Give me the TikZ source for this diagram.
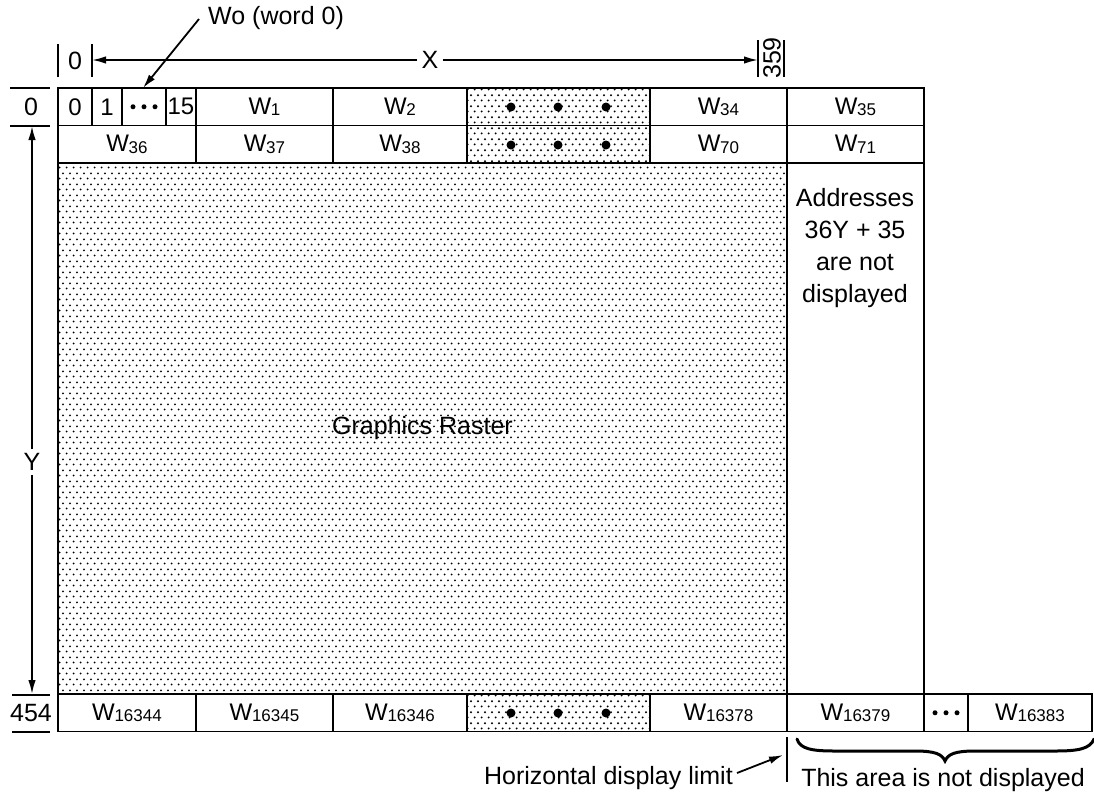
\documentclass[tikz,border=0pt]{standalone}
\usepackage{fontspec}
\setmainfont{Liberation Sans}
\usetikzlibrary{arrows.meta,patterns}
\pgfdeclarepatternformonly{rasterdots}{\pgfqpoint{0pt}{0pt}}{\pgfqpoint{7.3pt}{11pt}}{\pgfqpoint{7.3pt}{11pt}}{%
  \pgfpathcircle{\pgfqpoint{1.8pt}{2.75pt}}{1.15pt}%
  \pgfpathcircle{\pgfqpoint{5.45pt}{8.25pt}}{1.15pt}%
  \pgfusepath{fill}}
\newcommand\Wd[1]{W\kern-0.3pt\raisebox{-1.5pt}{\fontsize{17}{17}\selectfont #1}}
\tikzset{
  cell/.style={draw, line width=1.8pt, inner sep=0pt, outer sep=0pt, anchor=north west,
    minimum height=37.5pt, font=\fontsize{24}{28}\selectfont},
  dotcell/.style={cell, pattern=rasterdots},
  bigdot/.style={circle, fill, inner sep=0pt, minimum size=9pt},
  smalldot/.style={circle, fill, inner sep=0pt, minimum size=5pt},
  lbl/.style={font=\fontsize{25}{30}\selectfont, inner sep=1pt},
  tick/.style={line width=1.8pt},
  arr/.style={line width=1.8pt, -{Latex[length=14pt,width=7.5pt]}},
}
\begin{document}
\begin{tikzpicture}[x=1pt,y=-1pt]
\useasboundingbox (0,0) rectangle (1094,796);
% ---- row 1
\node[cell, minimum width=34pt] (b0) at (58,88) {0};
\node[cell, minimum width=30pt] (b1) at (92,88) {1};
\node[cell, minimum width=44pt] (bd) at (122,88) {};
\node[cell, minimum width=30pt] (b15) at (166,88) {15};
\node[cell, minimum width=137pt] (w1) at (196,88) {\Wd{1}};
\node[cell, minimum width=134pt] (w2) at (333,88) {\Wd{2}};
\node[dotcell, minimum width=183pt] (r1d) at (467,88) {};
\node[cell, minimum width=137pt] (w34) at (650,88) {\Wd{34}};
\node[cell, minimum width=137pt] (w35) at (787,88) {\Wd{35}};
% ---- row 2
\node[cell, minimum width=138pt] (w36) at (58,125.5) {\Wd{36}};
\node[cell, minimum width=137pt] (w37) at (196,125.5) {\Wd{37}};
\node[cell, minimum width=134pt] (w38) at (333,125.5) {\Wd{38}};
\node[dotcell, minimum width=183pt] (r2d) at (467,125.5) {};
\node[cell, minimum width=137pt] (w70) at (650,125.5) {\Wd{70}};
\node[cell, minimum width=137pt] (w71) at (787,125.5) {\Wd{71}};
% ---- raster and right column
\node[dotcell, minimum width=729pt, minimum height=531pt, font=\fontsize{25}{30}\selectfont] (raster) at (58,163) {Graphics Raster};
\node[cell, minimum width=137pt, minimum height=531pt] (ndcol) at (787,163) {};
\node[lbl, align=center, font=\fontsize{25}{32}\selectfont] (addr) at (855,248) {Addresses\\36Y + 35\\are not\\displayed};
% ---- bottom row
\node[cell, minimum width=138pt] (w16344) at (58,694) {\Wd{16344}};
\node[cell, minimum width=137pt] (w16345) at (196,694) {\Wd{16345}};
\node[cell, minimum width=134pt] (w16346) at (333,694) {\Wd{16346}};
\node[dotcell, minimum width=183pt] (r3d) at (467,694) {};
\node[cell, minimum width=137pt] (w16378) at (650,694) {\Wd{16378}};
\node[cell, minimum width=137pt] (w16379) at (787,694) {\Wd{16379}};
\node[cell, minimum width=44pt] (bd2) at (924,694) {};
\node[cell, minimum width=124pt] (w16383) at (968,694) {\Wd{16383}};
% big dots
\foreach \i/\x in {1/511,2/558,3/606}{
  \node[bigdot] (da\i) at (\x,107) {};
  \node[bigdot] (db\i) at (\x,145) {};
  \node[bigdot] (dc\i) at (\x,713) {};
}
% small dots (ellipses)
\foreach \i/\d in {1/-11,2/0,3/11}{
  \node[smalldot] (sa\i) at ([xshift=\d pt]bd.center) {};
  \node[smalldot] (sb\i) at ([xshift=\d pt]bd2.center) {};
}
% ---- X dimension
\coordinate (xl) at (92,60);
\coordinate (xr) at (758,60);
\node[lbl, fill=white, inner sep=4pt] (xlab) at (430,60) {X};
\draw[arr] (xlab) -- (xl);
\draw[arr] (xlab) -- (xr);
\draw[tick] (58,44) -- (58,77);
\draw[tick] (92,44) -- (92,77);
\node[lbl] (x0) at (75,61) {0};
\draw[tick] (758,40) -- (758,77);
\draw[tick] (784,40) -- (784,77);
\node[lbl, rotate=90] (x359) at (772,58) {359};
% ---- Wo label
\node[lbl, anchor=west] (wo) at (207,18) {Wo (word 0)};
\coordinate (wos) at (199,19);
\coordinate (wot) at (143,88);
\draw[arr] (wos) -- (wot);
% ---- Y dimension
\coordinate (yt) at (32,126);
\coordinate (yb) at (32,694);
\node[lbl, fill=white, inner sep=4pt] (ylab) at (32,462) {Y};
\draw[arr] (ylab) -- (yt);
\draw[arr] (ylab) -- (yb);
\draw[tick] (10,88) -- (50,88);
\draw[tick] (10,126) -- (50,126);
\node[lbl] (y0) at (31,107) {0};
\draw[tick] (12,695) -- (50,695);
\draw[tick] (12,732) -- (50,732);
\node[lbl] (y454) at (31,713) {454};
% ---- bottom annotations
\coordinate (limt) at (787,737);
\coordinate (limb) at (787,782);
\draw[tick] (limt) -- (limb);
\node[lbl, anchor=east] (hdl) at (734,778) {Horizontal display limit};
\coordinate (hds) at (737,773);
\coordinate (hdt) at (783,755);
\draw[arr] (hds) -- (hdt);
\coordinate (bl) at (797,739);
\coordinate (btip) at (945,761);
\coordinate (br) at (1094,739);
\draw[line width=3pt, line cap=round]
  (bl) .. controls (800,749) and (812,751) .. (835,751)
  -- (915,751) .. controls (935,751) and (942,754) .. (btip)
  .. controls (948,754) and (955,751) .. (975,751)
  -- (1055,751) .. controls (1078,751) and (1090,749) .. (br);
\node[lbl] (nd) at (943,780) {This area is not displayed};
\end{tikzpicture}
\end{document}
